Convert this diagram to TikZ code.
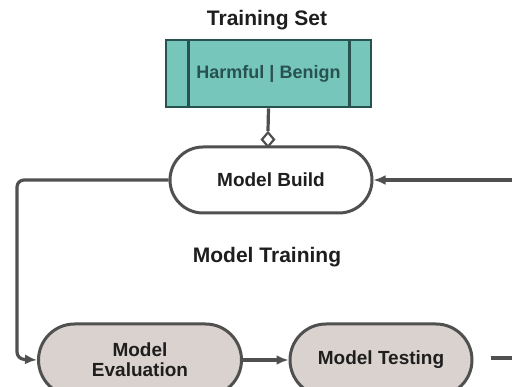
\documentclass[tikz,border=0pt]{standalone}
\usepackage{fontspec}
\setmainfont{Liberation Sans}
\usetikzlibrary{arrows.meta,shapes.misc,shapes.geometric,calc}
\definecolor{tealfill}{RGB}{118,198,188}
\definecolor{tealdark}{RGB}{40,82,80}
\definecolor{pillfill}{RGB}{218,210,206}
\definecolor{linegray}{RGB}{80,80,80}
\definecolor{txt}{RGB}{30,30,30}
\begin{document}
\begin{tikzpicture}[x=1pt,y=-1pt,
  every node/.style={font=\fontsize{19}{22}\selectfont\bfseries, text=txt},
  title/.style={font=\fontsize{21}{24}\selectfont\bfseries},
  pill/.style={rounded rectangle, draw=linegray, line width=3pt, inner sep=0pt, align=center},
  conn/.style={draw=linegray, line width=3.2pt},
  arr/.style={conn, -{Latex[length=12pt,width=10pt]}}
]
\useasboundingbox (0,0) rectangle (512,387);
\fill[white] (0,0) rectangle (512,387);

\node[title] (tstitle) at (267,20) {Training Set};
\node[rectangle, draw=tealdark, line width=2.6pt, fill=tealfill, minimum width=205pt, minimum height=67pt, inner sep=0pt, text=tealdark, font=\fontsize{18}{22}\selectfont\bfseries] (ts) at (268.5,73.5) {Harmful | Benign};
\draw[draw=tealdark, line width=2.6pt] ([xshift=24pt]ts.north west) -- ([xshift=24pt]ts.south west);
\draw[draw=tealdark, line width=2.6pt] ([xshift=-23pt]ts.north east) -- ([xshift=-23pt]ts.south east);

\node[pill, fill=white, minimum width=202pt, minimum height=66pt] (mb) at (271,180) {Model Build};
\node[diamond, draw=linegray, line width=2.2pt, fill=white, minimum width=13pt, minimum height=15pt, inner sep=0pt] (dia) at (268,139.5) {};
\draw[conn] (ts.south) -- (dia.north);

\node[title] (mtrain) at (267,257) {Model Training};

\node[pill, fill=pillfill, minimum width=203pt, minimum height=72pt] (me) at (140,360) {Model\\[-2pt]Evaluation};
\node[pill, fill=pillfill, minimum width=182pt, minimum height=72pt] (mt) at (381,360) {Model Testing};

\coordinate (lc1) at (17,180);
\coordinate (lc2) at (17,359);
\draw[arr, rounded corners=7pt] (mb.west) -- (lc1) -- (lc2) -- (me.west);
\coordinate (rc) at (513,180);
\draw[arr] (rc) -- (mb.east);
\draw[arr] (me.east) -- (mt.west);
\coordinate (br) at (513,358);
\draw[conn] ([xshift=17pt,yshift=2pt]mt.east) -- (br);
\end{tikzpicture}
\end{document}
